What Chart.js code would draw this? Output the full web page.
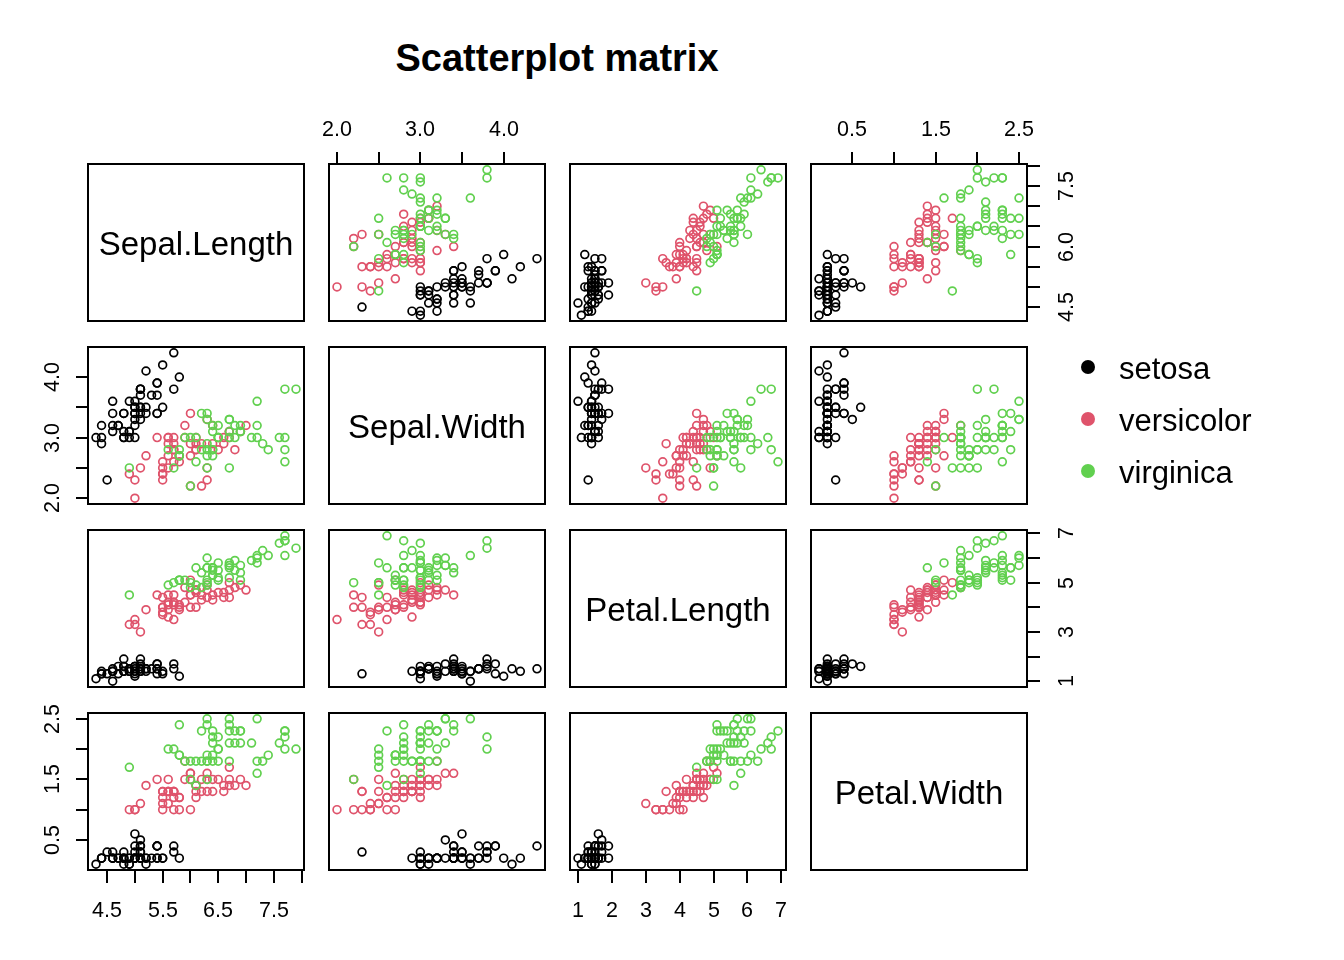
<!DOCTYPE html>
<html><head><meta charset="utf-8">
<script src="https://cdn.jsdelivr.net/npm/chart.js@4.4.1/dist/chart.umd.min.js"></script>
<style>
html,body{margin:0;padding:0;background:#fff;width:1344px;height:960px;overflow:hidden;}
body{position:relative;font-family:'Liberation Sans',Arial,sans-serif;color:#000;}
canvas{position:absolute;}
#title{position:absolute;left:0;width:1114px;top:39px;text-align:center;font-weight:bold;font-size:38px;line-height:38px;white-space:nowrap;}
.leg{position:absolute;left:1119px;font-size:31px;line-height:31px;white-space:nowrap;}
.dot{position:absolute;width:14px;height:14px;border-radius:50%;left:1081px;}
</style></head><body>
<div id="title">Scatterplot matrix</div>
<script>
// ---------- data (iris) ----------
const variables = ['Sepal.Length', 'Sepal.Width', 'Petal.Length', 'Petal.Width'];
const species = ['setosa', 'versicolor', 'virginica'];
const speciesColors = ['#000000', '#DF536B', '#61D04F'];
const speciesCounts = [50, 50, 50];

const sepalLength = [
5.1,4.9,4.7,4.6,5.0,5.4,4.6,5.0,4.4,4.9,5.4,4.8,4.8,4.3,5.8,5.7,5.4,5.1,5.7,5.1,5.4,5.1,4.6,5.1,4.8,5.0,5.0,5.2,5.2,4.7,4.8,5.4,5.2,5.5,4.9,5.0,5.5,4.9,4.4,5.1,5.0,4.5,4.4,5.0,5.1,4.8,5.1,4.6,5.3,5.0,
7.0,6.4,6.9,5.5,6.5,5.7,6.3,4.9,6.6,5.2,5.0,5.9,6.0,6.1,5.6,6.7,5.6,5.8,6.2,5.6,5.9,6.1,6.3,6.1,6.4,6.6,6.8,6.7,6.0,5.7,5.5,5.5,5.8,6.0,5.4,6.0,6.7,6.3,5.6,5.5,5.5,6.1,5.8,5.0,5.6,5.7,5.7,6.2,5.1,5.7,
6.3,5.8,7.1,6.3,6.5,7.6,4.9,7.3,6.7,7.2,6.5,6.4,6.8,5.7,5.8,6.4,6.5,7.7,7.7,6.0,6.9,5.6,7.7,6.3,6.7,7.2,6.2,6.1,6.4,7.2,7.4,7.9,6.4,6.3,6.1,7.7,6.3,6.4,6.0,6.9,6.7,6.9,5.8,6.8,6.7,6.7,6.3,6.5,6.2,5.9];
const sepalWidth = [
3.5,3.0,3.2,3.1,3.6,3.9,3.4,3.4,2.9,3.1,3.7,3.4,3.0,3.0,4.0,4.4,3.9,3.5,3.8,3.8,3.4,3.7,3.6,3.3,3.4,3.0,3.4,3.5,3.4,3.2,3.1,3.4,4.1,4.2,3.1,3.2,3.5,3.6,3.0,3.4,3.5,2.3,3.2,3.5,3.8,3.0,3.8,3.2,3.7,3.3,
3.2,3.2,3.1,2.3,2.8,2.8,3.3,2.4,2.9,2.7,2.0,3.0,2.2,2.9,2.9,3.1,3.0,2.7,2.2,2.5,3.2,2.8,2.5,2.8,2.9,3.0,2.8,3.0,2.9,2.6,2.4,2.4,2.7,2.7,3.0,3.4,3.1,2.3,3.0,2.5,2.6,3.0,2.6,2.3,2.7,3.0,2.9,2.9,2.5,2.8,
3.3,2.7,3.0,2.9,3.0,3.0,2.5,2.9,2.5,3.6,3.2,2.7,3.0,2.5,2.8,3.2,3.0,3.8,2.6,2.2,3.2,2.8,2.8,2.7,3.3,3.2,2.8,3.0,2.8,3.0,2.8,3.8,2.8,2.8,2.6,3.0,3.4,3.1,3.0,3.1,3.1,3.1,2.7,3.2,3.3,3.0,2.5,3.0,3.4,3.0];
const petalLength = [
1.4,1.4,1.3,1.5,1.4,1.7,1.4,1.5,1.4,1.5,1.5,1.6,1.4,1.1,1.2,1.5,1.3,1.4,1.7,1.5,1.7,1.5,1.0,1.7,1.9,1.6,1.6,1.5,1.4,1.6,1.6,1.5,1.5,1.4,1.5,1.2,1.3,1.4,1.3,1.5,1.3,1.3,1.3,1.6,1.9,1.4,1.6,1.4,1.5,1.4,
4.7,4.5,4.9,4.0,4.6,4.5,4.7,3.3,4.6,3.9,3.5,4.2,4.0,4.7,3.6,4.4,4.5,4.1,4.5,3.9,4.8,4.0,4.9,4.7,4.3,4.4,4.8,5.0,4.5,3.5,3.8,3.7,3.9,5.1,4.5,4.5,4.7,4.4,4.1,4.0,4.4,4.6,4.0,3.3,4.2,4.2,4.2,4.3,3.0,4.1,
6.0,5.1,5.9,5.6,5.8,6.6,4.5,6.3,5.8,6.1,5.1,5.3,5.5,5.0,5.1,5.3,5.5,6.7,6.9,5.0,5.7,4.9,6.7,4.9,5.7,6.0,4.8,4.9,5.6,5.8,6.1,6.4,5.6,5.1,5.6,6.1,5.6,5.5,4.8,5.4,5.6,5.1,5.1,5.9,5.7,5.2,5.0,5.2,5.4,5.1];
const petalWidth = [
0.2,0.2,0.2,0.2,0.2,0.4,0.3,0.2,0.2,0.1,0.2,0.2,0.1,0.1,0.2,0.4,0.4,0.3,0.3,0.3,0.2,0.4,0.2,0.5,0.2,0.2,0.4,0.2,0.2,0.2,0.2,0.4,0.1,0.2,0.2,0.2,0.2,0.1,0.2,0.2,0.3,0.3,0.2,0.6,0.4,0.3,0.2,0.2,0.2,0.2,
1.4,1.5,1.5,1.3,1.5,1.3,1.6,1.0,1.3,1.4,1.0,1.5,1.0,1.4,1.3,1.4,1.5,1.0,1.5,1.1,1.8,1.3,1.5,1.2,1.3,1.4,1.4,1.7,1.5,1.0,1.1,1.0,1.2,1.6,1.5,1.6,1.5,1.3,1.3,1.3,1.2,1.4,1.2,1.0,1.3,1.2,1.3,1.3,1.1,1.3,
2.5,1.9,2.1,1.8,2.2,2.1,1.7,1.8,1.8,2.5,2.0,1.9,2.1,2.0,2.4,2.3,1.8,2.2,2.3,1.5,2.3,2.0,2.0,1.8,2.1,1.8,1.8,1.8,2.1,1.6,1.9,2.0,2.2,1.5,1.4,2.3,2.4,1.8,1.8,2.1,2.4,2.3,1.9,2.3,2.5,2.3,1.9,2.0,2.3,1.8];

// ---------- tick values and labels ----------
const sepalLengthTicks = [4.5, 5.0, 5.5, 6.0, 6.5, 7.0, 7.5, 8.0];
const sepalLengthBottomLabels = ['4.5', '', '5.5', '', '6.5', '', '7.5', ''];
const sepalLengthRightLabels = ['4.5', '', '', '6.0', '', '', '7.5', ''];
const sepalWidthTicks = [2.0, 2.5, 3.0, 3.5, 4.0];
const sepalWidthLabels = ['2.0', '', '3.0', '', '4.0'];
const petalLengthTicks = [1, 2, 3, 4, 5, 6, 7];
const petalLengthBottomLabels = ['1', '2', '3', '4', '5', '6', '7'];
const petalLengthRightLabels = ['1', '', '3', '', '5', '', '7'];
const petalWidthTicks = [0.5, 1.0, 1.5, 2.0, 2.5];
const petalWidthLabels = ['0.5', '', '1.5', '', '2.5'];

// ---------- layout ----------
const FONT = '"Liberation Sans", Arial, sans-serif';
const panelLeft = [88, 329, 570, 811];
const panelTop = [164, 347, 530, 713];
const PW = 216, PH = 157, M = 60;
const CAP = 0.716;
const LABEL_FS = 33, TICK_FS = 21.5;

const values = [sepalLength, sepalWidth, petalLength, petalWidth];
function limits(arr) {
  const lo = Math.min(...arr), hi = Math.max(...arr), d = hi - lo;
  return [lo - 0.04 * d, hi + 0.04 * d];
}
const lims = values.map(limits);

const axesFor = {
  '0,1': [{side: 'top', ticks: sepalWidthTicks, labels: sepalWidthLabels}],
  '0,3': [{side: 'top', ticks: petalWidthTicks, labels: petalWidthLabels},
          {side: 'right', ticks: sepalLengthTicks, labels: sepalLengthRightLabels}],
  '1,0': [{side: 'left', ticks: sepalWidthTicks, labels: sepalWidthLabels}],
  '2,3': [{side: 'right', ticks: petalLengthTicks, labels: petalLengthRightLabels}],
  '3,0': [{side: 'bottom', ticks: sepalLengthTicks, labels: sepalLengthBottomLabels},
          {side: 'left', ticks: petalWidthTicks, labels: petalWidthLabels}],
  '3,2': [{side: 'bottom', ticks: petalLengthTicks, labels: petalLengthBottomLabels}]
};

function makePanelPlugin(label, axes) {
  return {
    id: 'panelDeco',
    afterDraw(chart) {
      const ctx = chart.ctx, a = chart.chartArea;
      ctx.save();
      ctx.strokeStyle = '#000';
      ctx.fillStyle = '#000';
      ctx.lineWidth = 2;
      ctx.strokeRect(a.left, a.top, a.right - a.left, a.bottom - a.top);
      if (label) {
        ctx.font = LABEL_FS + 'px ' + FONT;
        ctx.textAlign = 'center';
        ctx.textBaseline = 'alphabetic';
        ctx.fillText(label, (a.left + a.right) / 2, (a.top + a.bottom) / 2 + CAP * LABEL_FS / 2 + 0.5);
      }
      const fs = TICK_FS;
      ctx.font = fs + 'px ' + FONT;
      ctx.textAlign = 'center';
      ctx.textBaseline = 'alphabetic';
      axes.forEach(ax => {
        const horiz = ax.side === 'top' || ax.side === 'bottom';
        const sc = horiz ? chart.scales.x : chart.scales.y;
        ax.ticks.forEach((v, i) => {
          const p = Math.round(sc.getPixelForValue(v));
          ctx.beginPath();
          if (ax.side === 'bottom') { ctx.moveTo(p, a.bottom); ctx.lineTo(p, a.bottom + 13); }
          if (ax.side === 'top') { ctx.moveTo(p, a.top); ctx.lineTo(p, a.top - 12); }
          if (ax.side === 'left') { ctx.moveTo(a.left, p); ctx.lineTo(a.left - 12, p); }
          if (ax.side === 'right') { ctx.moveTo(a.right, p); ctx.lineTo(a.right + 13, p); }
          ctx.stroke();
          const lab = ax.labels[i];
          if (!lab) return;
          const half = CAP * fs / 2;
          if (ax.side === 'bottom') ctx.fillText(lab, p, a.bottom + 39 + half);
          else if (ax.side === 'top') ctx.fillText(lab, p, a.top - 36 + half);
          else {
            const cx = ax.side === 'left' ? a.left - 36.5 : a.right + 38;
            ctx.save();
            ctx.translate(cx + half, p);
            ctx.rotate(-Math.PI / 2);
            ctx.fillText(lab, 0, 0);
            ctx.restore();
          }
        });
      });
      ctx.restore();
    }
  };
}

function speciesSlices() {
  const out = []; let s = 0;
  speciesCounts.forEach(n => { out.push([s, s + n]); s += n; });
  return out;
}
const slices = speciesSlices();

for (let r = 0; r < 4; r++) {
  for (let c = 0; c < 4; c++) {
    const cv = document.createElement('canvas');
    cv.width = PW + 2 * M; cv.height = PH + 2 * M;
    cv.style.left = (panelLeft[c] - M) + 'px';
    cv.style.top = (panelTop[r] - M) + 'px';
    cv.style.width = cv.width + 'px'; cv.style.height = cv.height + 'px';
    document.body.appendChild(cv);
    const diag = r === c;
    const datasets = diag ? [] : species.map((sp, k) => {
      const [s, e] = slices[k];
      const pts = [];
      for (let i = s; i < e; i++) pts.push({x: values[c][i], y: values[r][i]});
      return {
        label: sp, data: pts, order: 2 - k, clip: false,
        pointStyle: 'circle', pointRadius: 3.9, pointHoverRadius: 3.9,
        pointBorderWidth: 1.7, pointBorderColor: speciesColors[k],
        pointBackgroundColor: 'rgba(0,0,0,0)', showLine: false
      };
    });
    new Chart(cv, {
      type: 'scatter',
      data: {datasets},
      options: {
        responsive: false, animation: false, devicePixelRatio: 1, events: [],
        layout: {padding: M},
        plugins: {legend: {display: false}, tooltip: {enabled: false}, title: {display: false}},
        scales: {
          x: {type: 'linear', display: false, bounds: 'data', min: lims[c][0], max: lims[c][1]},
          y: {type: 'linear', display: false, bounds: 'data', min: lims[r][0], max: lims[r][1]}
        }
      },
      plugins: [makePanelPlugin(diag ? variables[r] : null, axesFor[r + ',' + c] || [])]
    });
  }
}

// ---------- legend ----------
const legendTop = [353, 405, 457];
species.forEach((sp, k) => {
  const d = document.createElement('div');
  d.className = 'dot';
  d.style.background = speciesColors[k];
  d.style.top = (legendTop[k] + 7) + 'px';
  document.body.appendChild(d);
  const t = document.createElement('div');
  t.className = 'leg';
  t.style.top = legendTop[k] + 'px';
  t.textContent = sp;
  document.body.appendChild(t);
});
</script>
</body></html>
